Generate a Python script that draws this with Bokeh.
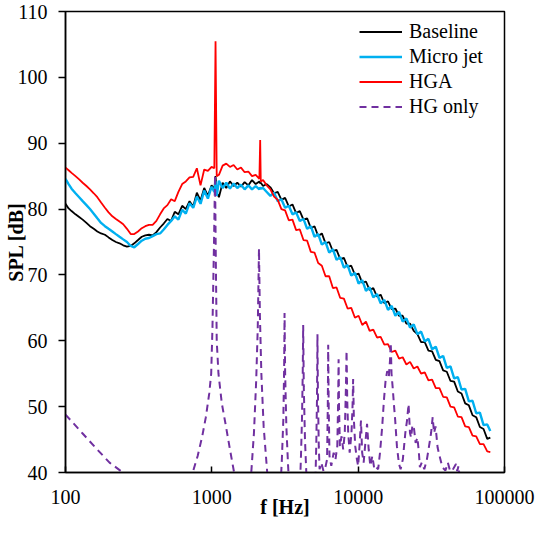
from bokeh.plotting import figure
from bokeh.models import Range1d, FixedTicker, Legend, LegendItem
from bokeh.embed import file_html
from bokeh.resources import INLINE

# ---------------- data ----------------
freq = [
    100, 105, 110, 117, 124, 131, 139, 147, 156, 165,
    175, 186, 197, 209, 221, 234, 248, 263, 279, 295,
    313, 332, 351, 372, 394, 418, 443, 469, 497, 527,
    558, 591, 627, 664, 704, 746, 790, 837, 887, 940,
    996, 1040, 1060, 1080, 1118, 1185, 1255, 1330, 1409, 1493,
    1582, 1676, 1776, 1882, 1994, 2113, 2140, 2160, 2239, 2372,
    2513, 2663, 2821, 2989, 3167, 3356, 3556, 3767, 3992, 4229,
    4481, 4748, 5031, 5330, 5647, 5983, 6340, 6717, 7117, 7541,
    7990, 8465, 8969, 9503, 10069, 10668, 11303, 11976, 12689, 13444,
    14245, 15093, 15991, 16943, 17952, 19021, 20153, 21353, 22624, 23971,
    25398, 26910, 28512, 30210, 32008, 33914, 35933, 38072, 40339, 42740,
    45285, 47981, 50837, 53864, 57071, 60468, 64068, 67882, 71924, 76206,
    80000,
]

baseline = [
    80.8, 80.1, 79.7, 79.2, 78.8, 78.4, 77.9, 77.4, 77.0, 76.6,
    76.3, 76.1, 75.7, 75.3, 75.0, 74.8, 74.5, 74.3, 74.4, 74.8,
    75.3, 75.8, 76.0, 76.1, 76.0, 76.5, 77.2, 77.8, 78.5, 78.2,
    79.6, 79.2, 80.5, 80.0, 81.2, 80.4, 82.5, 81.3, 83.2, 82.0,
    83.6, 83.0, 85.0, 82.5, 81.8, 84.0, 83.2, 84.2, 83.5, 84.0,
    83.4, 84.1, 83.6, 84.4, 83.8, 84.2, 83.9, 84.0, 83.5, 83.8,
    83.3, 82.4, 82.6, 81.4, 81.7, 80.4, 80.7, 79.4, 79.7, 78.4,
    78.6, 77.1, 77.4, 75.9, 76.3, 74.8, 75.0, 73.6, 73.8, 72.4,
    72.6, 71.2, 71.4, 70.0, 70.2, 68.8, 69.0, 67.7, 68.0, 66.7,
    67.0, 65.7, 66.0, 64.8, 64.9, 63.8, 63.8, 62.6, 62.6, 61.5,
    61.0, 59.8, 59.8, 58.5, 58.4, 57.1, 56.9, 55.5, 55.3, 53.9,
    53.8, 52.3, 52.0, 50.5, 50.2, 48.7, 48.4, 46.9, 46.6, 45.1,
    45.3,
]

micro_jet = [
    84.6, 83.8, 83.1, 82.4, 81.8, 81.2, 80.6, 80.0, 79.3, 78.6,
    77.9, 77.4, 77.0, 76.6, 76.2, 75.8, 75.4, 75.0, 74.4, 74.2,
    74.7, 75.2, 75.5, 75.6, 75.9, 76.2, 76.3, 76.9, 77.6, 78.2,
    78.9, 78.4, 79.9, 79.3, 80.9, 80.2, 81.9, 80.8, 82.8, 81.6,
    83.4, 82.6, 84.2, 82.0, 84.3, 83.2, 84.0, 83.1, 83.9, 83.2,
    83.7, 83.0, 83.6, 83.0, 83.5, 83.0, 83.3, 83.1, 83.2, 82.6,
    82.0, 82.5, 81.2, 81.5, 80.2, 80.5, 79.2, 79.5, 78.2, 78.5,
    77.0, 77.4, 75.8, 76.2, 74.6, 75.0, 73.4, 73.9, 72.3, 72.7,
    71.1, 71.5, 69.9, 70.3, 68.7, 69.2, 67.6, 68.1, 66.6, 67.1,
    65.7, 66.2, 64.7, 65.3, 63.8, 64.4, 62.9, 63.4, 62.0, 62.5,
    61.0, 61.4, 59.9, 60.3, 58.7, 59.1, 57.4, 57.7, 55.9, 56.1,
    54.3, 54.5, 52.6, 52.7, 50.8, 50.9, 49.0, 49.1, 47.2, 47.3,
    46.3,
]

hga = [
    86.3, 85.9, 85.5, 85.0, 84.5, 84.0, 83.5, 83.0, 82.4, 81.8,
    81.0, 80.2, 79.5, 78.9, 78.5, 78.1, 77.7, 77.0, 76.2, 76.2,
    76.6, 77.1, 77.4, 77.6, 77.6, 78.2, 79.2, 80.1, 80.6, 81.5,
    81.2, 82.6, 83.8, 84.2, 84.8, 84.9, 86.2, 83.6, 86.0, 85.8,
    86.4, 86.2, 105.5, 85.0, 85.2, 86.6, 86.9, 86.4, 86.7, 86.0,
    86.3, 85.6, 85.7, 85.0, 85.2, 84.6, 90.5, 84.2, 84.4, 83.6,
    83.0, 81.9, 81.4, 80.0, 79.8, 78.3, 78.4, 76.8, 76.9, 75.3,
    75.2, 73.5, 73.4, 71.8, 71.4, 69.8, 69.8, 68.0, 68.1, 66.5,
    66.4, 64.9, 65.0, 63.5, 63.8, 62.4, 62.9, 61.5, 61.7, 60.5,
    60.6, 59.4, 59.5, 58.3, 58.5, 57.3, 57.5, 56.4, 56.8, 55.8,
    56.1, 55.0, 55.2, 54.0, 54.1, 52.8, 52.8, 51.5, 51.4, 50.0,
    49.9, 48.5, 48.4, 47.0, 46.9, 45.6, 45.5, 44.3, 44.3, 43.2,
    43.1,
]

hg_freq = [
    100, 130, 160, 200, 250, 320,
    700, 740, 800, 860, 910, 960, 990, 1010, 1035, 1052, 1065, 1080, 1110, 1170, 1240, 1330, 1420, 1500,
    1800, 1860, 1940, 2010, 2060, 2100, 2130, 2180, 2260, 2390, 2500,
    2950, 3010, 3080, 3120, 3140, 3170, 3230, 3320, 3380,
    4000, 4060, 4130, 4180, 4210, 4250, 4330, 4440,
    5100, 5170, 5230, 5270, 5310, 5380, 5450, 5600, 5800, 6000,
    6130, 6200, 6240, 6290, 6370, 6550, 6800, 7000,
    7200, 7300, 7350, 7400, 7500, 7700, 7900, 8100,
    8250, 8330, 8420, 8550, 8750, 9000, 9150, 9240, 9350, 9550, 9800, 10000,
    10250, 10450, 10650, 10900, 11200, 11500, 11800, 12100, 12500, 12900, 13300, 13700,
    14100, 14600, 15000, 15400, 15800, 16200, 16500, 16700, 16900, 17200, 17600, 17900, 18400, 19000, 19500,
    20200, 21000, 21600, 22100, 22600, 23000, 23500, 24100, 24700, 25400, 26000, 26400,
    27200, 28300, 29500, 30500, 31500, 32300, 33000, 33800, 34900, 36000, 37600,
    39500, 41000, 42500, 44000, 46600, 47500, 48500, 50000,
]

hg_only = [
    48.8, 46.0, 43.8, 41.5, 39.9, 37.0,
    37.0, 40.0, 42.5, 45.5, 48.4, 52.0, 55.0, 62.0, 75.0, 85.2, 72.0, 60.0, 55.0, 50.5, 47.4, 43.5, 40.0, 37.0,
    37.0, 40.0, 46.0, 54.0, 62.0, 74.0, 64.0, 55.0, 47.0, 40.0, 37.0,
    38.0, 42.0, 48.0, 56.0, 64.2, 55.0, 47.0, 41.0, 38.0,
    38.0, 42.0, 48.0, 55.0, 62.4, 53.0, 45.0, 39.0,
    38.5, 44.0, 51.0, 61.0, 52.0, 44.0, 40.5, 41.5, 40.2, 41.0,
    42.0, 50.0, 59.4, 50.0, 42.5, 41.0, 43.0, 42.0,
    44.0, 51.0, 57.2, 50.0, 44.0, 45.5, 43.5, 46.0,
    53.0, 58.5, 51.0, 46.0, 43.0, 46.0, 50.0, 54.2, 48.0, 44.0, 42.0, 41.0,
    44.5, 47.9, 43.0, 41.5, 44.5, 47.4, 43.5, 41.0, 42.5, 40.5, 40.8, 40.5,
    43.0, 47.0, 51.0, 54.0, 55.4, 54.5, 57.0, 59.7, 55.0, 53.0, 50.0, 48.0, 44.0, 41.3, 40.5,
    42.0, 46.0, 48.0, 50.4, 46.0, 45.3, 47.2, 46.6, 44.5, 45.3, 43.0, 40.8,
    41.5, 40.5, 42.0, 44.0, 46.0, 48.4, 46.0, 47.0, 43.8, 42.5, 40.8,
    40.3, 41.5, 40.2, 40.3, 41.3, 40.2, 41.0, 38.0,
]

x_tick_values = [100, 1000, 10000, 100000]
x_tick_labels = ["100", "1000", "10000", "100000"]
y_tick_values = [40, 50, 60, 70, 80, 90, 100, 110]

series_names = ["Baseline", "Micro jet", "HGA", "HG only"]
series_colors = ["#000000", "#00B0F0", "#FF0000", "#7030A0"]
x_title = "f [Hz]"
y_title = "SPL [dB]"

FONT = "Liberation Serif"

# ---------------- figure ----------------
p = figure(width=535, height=520, x_axis_type="log",
           x_range=Range1d(100, 100000), y_range=Range1d(40, 110),
           output_backend="svg", toolbar_location=None,
           min_border_left=65, min_border_right=31,
           min_border_top=11, min_border_bottom=46)

p.xgrid.visible = False
p.ygrid.visible = False
p.outline_line_color = "#000000"
p.outline_line_width = 1.5
p.background_fill_color = "white"
p.border_fill_color = "white"

r_b = p.line(freq, baseline, line_color=series_colors[0], line_width=1.8)
r_c = p.line(freq, micro_jet, line_color=series_colors[1], line_width=2.4)
r_r = p.line(freq, hga, line_color=series_colors[2], line_width=1.8)
r_h = p.line(hg_freq, hg_only, line_color=series_colors[3], line_width=2,
             line_dash="7 5")

# axes
xa = p.xaxis[0]
xa.ticker = FixedTicker(ticks=x_tick_values)
xa.major_label_overrides = {v: s for v, s in zip(x_tick_values, x_tick_labels)}
xa.major_tick_in = 6
xa.major_tick_out = 0
xa.minor_tick_line_color = None
xa.axis_label = x_title
xa.major_label_standoff = 17
xa.axis_label_standoff = -11

ya = p.yaxis[0]
ya.ticker = FixedTicker(ticks=y_tick_values)
ya.major_tick_in = 0
ya.major_tick_out = 7
ya.minor_tick_line_color = None
ya.axis_label = y_title
ya.major_label_standoff = 11
ya.axis_label_standoff = -12

for ax in (xa, ya):
    ax.axis_line_color = "#000000"
    ax.axis_line_width = 1.5
    ax.major_tick_line_color = "#000000"
    ax.major_tick_line_width = 1.5
    ax.major_label_text_font = FONT
    ax.major_label_text_font_size = "20px"
    ax.major_label_text_color = "#000000"
    ax.axis_label_text_font = FONT
    ax.axis_label_text_font_size = "20px"
    ax.axis_label_text_font_style = "bold"
    ax.axis_label_text_color = "#000000"

legend = Legend(items=[
    LegendItem(label=series_names[0], renderers=[r_b]),
    LegendItem(label=series_names[1], renderers=[r_c]),
    LegendItem(label=series_names[2], renderers=[r_r]),
    LegendItem(label=series_names[3], renderers=[r_h]),
], location=(289, 348))
legend.label_text_font = FONT
legend.label_text_font_size = "20px"
legend.label_text_color = "#000000"
legend.glyph_width = 43
legend.glyph_height = 25
legend.label_height = 25
legend.label_standoff = 7
legend.spacing = 0
legend.padding = 5
legend.margin = 0
legend.border_line_alpha = 0
legend.background_fill_alpha = 0
p.add_layout(legend)

open("out.html", "w").write(file_html(p, INLINE))
